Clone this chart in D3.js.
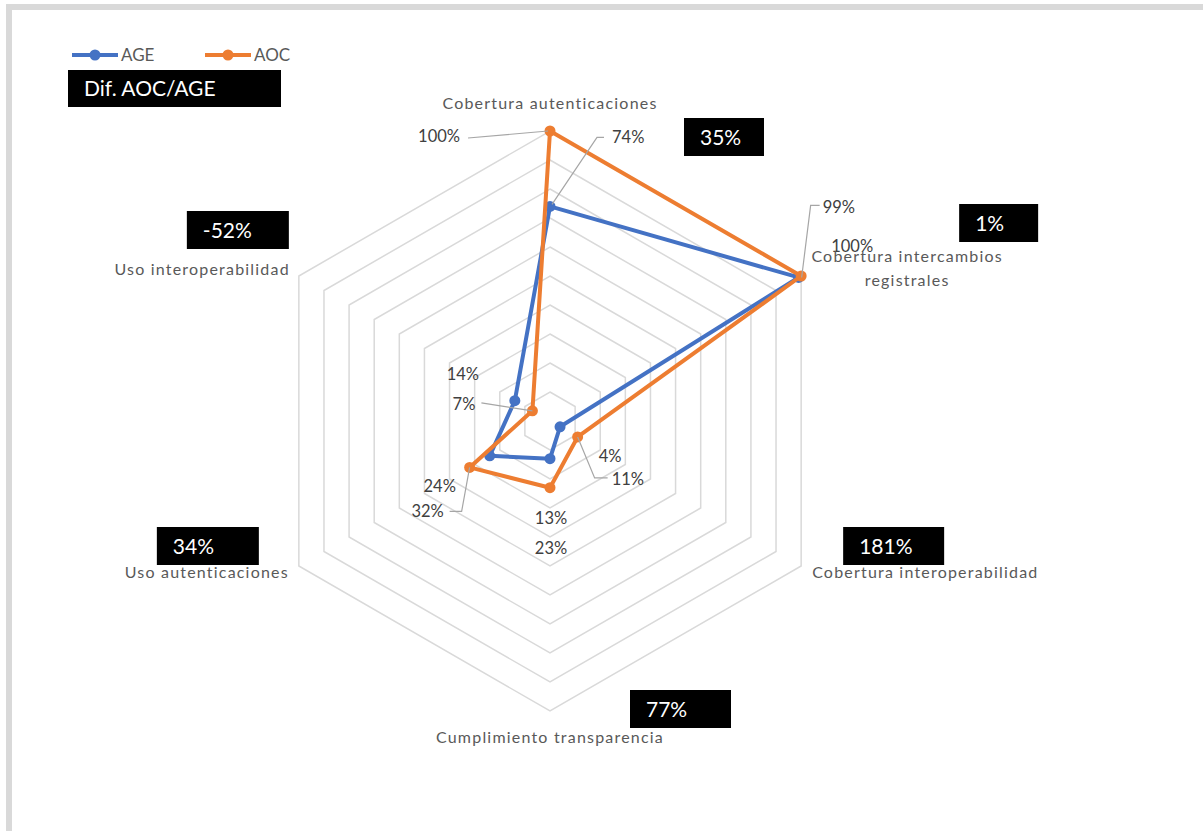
<!DOCTYPE html>
<html>
<head>
<meta charset="utf-8">
<script src="https://cdn.jsdelivr.net/npm/d3@7"></script>
<style>
  html, body { margin: 0; padding: 0; background: #fff; }
  svg { display: block; font-family: Lato, "Open Sans", sans-serif; }
</style>
</head>
<body>
<div id="chart"></div>
<script>
(function() {
  'use strict';

  // Data.
  var axes = [
    ['Cobertura autenticaciones'],
    ['Cobertura intercambios', 'registrales'],
    ['Cobertura interoperabilidad'],
    ['Cumplimiento transparencia'],
    ['Uso autenticaciones'],
    ['Uso interoperabilidad']
  ];
  var ageValues = [0.74, 0.99, 0.04, 0.13, 0.24, 0.14];
  var aocValues = [1.00, 1.00, 0.11, 0.23, 0.32, 0.07];
  var diffLabels = ['35%', '1%', '181%', '77%', '34%', '-52%'];
  var gridTicks = [0.1, 0.2, 0.3, 0.4, 0.5, 0.6, 0.7, 0.8, 0.9, 1.0];

  var width = 1203, height = 831;
  var cx = 550, cy = 421, radius = 290;

  var colors = {AGE: '#4472C4', AOC: '#ED7D31'};

  // Layout of the data labels, offsets from their point.
  var ageLabelPos = [
    {dx: 62, dy: -63, anchor: 'start', leader: [[2, -2], [47, -69], [54, -69]]},
    {dx: 24, dy: -64, anchor: 'start', leader: [[3, 0], [12, -72], [21, -72]]},
    {dx: 50, dy: 35, anchor: 'middle'},
    {dx: 1, dy: 65, anchor: 'middle'},
    {dx: -50, dy: 36, anchor: 'middle'},
    {dx: -52, dy: -21, anchor: 'middle'}
  ];
  var aocLabelPos = [
    {dx: -90, dy: 11, anchor: 'end', leader: [[-2, 0], [-82, 7]]},
    {dx: 51, dy: -24, anchor: 'middle'},
    {dx: 34, dy: 48, anchor: 'start', leader: [[0, 0], [17, 41], [30, 41]]},
    {dx: 1, dy: 66, anchor: 'middle'},
    {dx: -42, dy: 50, anchor: 'middle', leader: [[0, 0], [-8, 44], [-20, 44]]},
    {dx: -57, dy: -1, anchor: 'end', leader: [[0, 0], [-51, -8]]}
  ];
  // Category label offsets from the outer end of each axis.
  var catLabelPos = [
    {dx: 0, dy: -22, anchor: 'middle'},
    {dx: 106, dy: -14, anchor: 'middle'},
    {dx: 11, dy: 12, anchor: 'start'},
    {dx: 0, dy: 32, anchor: 'middle'},
    {dx: -10, dy: 12, anchor: 'end'},
    {dx: -9, dy: -1, anchor: 'end'}
  ];
  // Difference boxes, offsets from the outer end of each axis.
  var diffBoxPos = [
    {dx: 134, dy: -13, w: 80},
    {dx: 158, dy: -72, w: 79},
    {dx: 42, dy: -39, w: 101},
    {dx: 80, dy: -21, w: 101},
    {dx: -142, dy: -39, w: 102},
    {dx: -112, dy: -65, w: 102}
  ];

  var rScale = d3.scaleLinear().domain([0, 1]).range([0, radius]);
  var angle = function(i) { return i * 2 * Math.PI / axes.length; };

  function point(i, v) {
    var a = angle(i), r = rScale(v);
    return [cx + r * Math.sin(a), cy - r * Math.cos(a)];
  }

  function translation(x, y) {
    return 'translate(' + x + ',' + y + ')';
  }

  var svg = d3.select('#chart').append('svg')
      .attr('width', width)
      .attr('height', height);

  // Chart frame (grey top and left edge).
  svg.append('rect').attr('x', 6).attr('y', 4)
      .attr('width', width - 6).attr('height', 6).attr('fill', '#d9d9d9');
  svg.append('rect').attr('x', 6).attr('y', 4)
      .attr('width', 6).attr('height', height - 4).attr('fill', '#d9d9d9');

  var inner = svg.append('g').attr('transform', translation(cx, cy));

  // Grid rings.
  var ring = d3.lineRadial()
      .angle(function(d, i) { return angle(i); })
      .radius(function(d) { return rScale(d); })
      .curve(d3.curveLinearClosed);

  inner.append('g').selectAll('path')
      .data(gridTicks)
      .enter().append('path')
      .attr('d', function(t) { return ring(axes.map(function() { return t; })); })
      .attr('fill', 'none')
      .attr('stroke', '#d9d9d9')
      .attr('stroke-width', 1.5);

  // Series.
  var series = [
    {name: 'AGE', values: ageValues, labels: ageLabelPos},
    {name: 'AOC', values: aocValues, labels: aocLabelPos}
  ];

  series.forEach(function(s) {
    inner.append('path')
        .attr('d', ring(s.values))
        .attr('fill', 'none')
        .attr('stroke', colors[s.name])
        .attr('stroke-width', 4)
        .attr('stroke-linejoin', 'round');

    inner.append('g').selectAll('circle')
        .data(s.values)
        .enter().append('circle')
        .attr('cx', function(d, i) { return point(i, d)[0] - cx; })
        .attr('cy', function(d, i) { return point(i, d)[1] - cy; })
        .attr('r', 5.5)
        .attr('fill', colors[s.name]);
  });

  // Data labels with leader lines.
  var labelLayer = svg.append('g');
  series.forEach(function(s) {
    s.values.forEach(function(v, i) {
      var p = point(i, v), pos = s.labels[i];
      if (pos.leader) {
        labelLayer.append('polyline')
            .attr('points', pos.leader.map(function(o) {
              return (p[0] + o[0]) + ',' + (p[1] + o[1]);
            }).join(' '))
            .attr('fill', 'none')
            .attr('stroke', '#a6a6a6')
            .attr('stroke-width', 1.2);
      }
      labelLayer.append('text')
          .attr('x', p[0] + pos.dx)
          .attr('y', p[1] + pos.dy)
          .attr('text-anchor', pos.anchor)
          .attr('font-size', 16.5)
          .attr('fill', '#404040')
          .text(d3.format('.0%')(v));
    });
  });

  // Category labels.
  axes.forEach(function(lines, i) {
    var p = point(i, 1), pos = catLabelPos[i];
    var t = svg.append('text')
        .attr('x', p[0] + pos.dx)
        .attr('y', p[1] + pos.dy)
        .attr('text-anchor', pos.anchor)
        .attr('font-size', 16)
        .attr('letter-spacing', 1.2)
        .attr('fill', '#595959');
    lines.forEach(function(line, j) {
      t.append('tspan')
          .attr('x', p[0] + pos.dx)
          .attr('dy', j === 0 ? 0 : 24)
          .text(line);
    });
  });

  // Difference boxes.
  function blackBox(x, y, w, h, label, size) {
    svg.append('rect')
        .attr('x', x).attr('y', y)
        .attr('width', w).attr('height', h)
        .attr('fill', '#000');
    svg.append('text')
        .attr('x', x + 16)
        .attr('y', y + h / 2 + size * 0.36)
        .attr('font-size', size)
        .attr('fill', '#fff')
        .text(label);
  }

  diffLabels.forEach(function(label, i) {
    var p = point(i, 1), pos = diffBoxPos[i];
    blackBox(p[0] + pos.dx, p[1] + pos.dy, pos.w, 38, label, 21);
  });

  blackBox(68, 70, 213, 37, 'Dif. AOC/AGE', 21);

  // Legend.
  var legend = svg.append('g').attr('transform', translation(72, 55));
  series.forEach(function(s, i) {
    var g = legend.append('g').attr('transform', translation(i * 133, 0));
    g.append('line')
        .attr('x1', 0).attr('x2', 46)
        .attr('y1', 0).attr('y2', 0)
        .attr('stroke', colors[s.name])
        .attr('stroke-width', 4);
    g.append('circle')
        .attr('cx', 23).attr('r', 5.5)
        .attr('fill', colors[s.name]);
    g.append('text')
        .attr('x', 49).attr('y', 6)
        .attr('font-size', 17)
        .attr('fill', '#595959')
        .text(s.name);
  });
})();
</script>
</body>
</html>
